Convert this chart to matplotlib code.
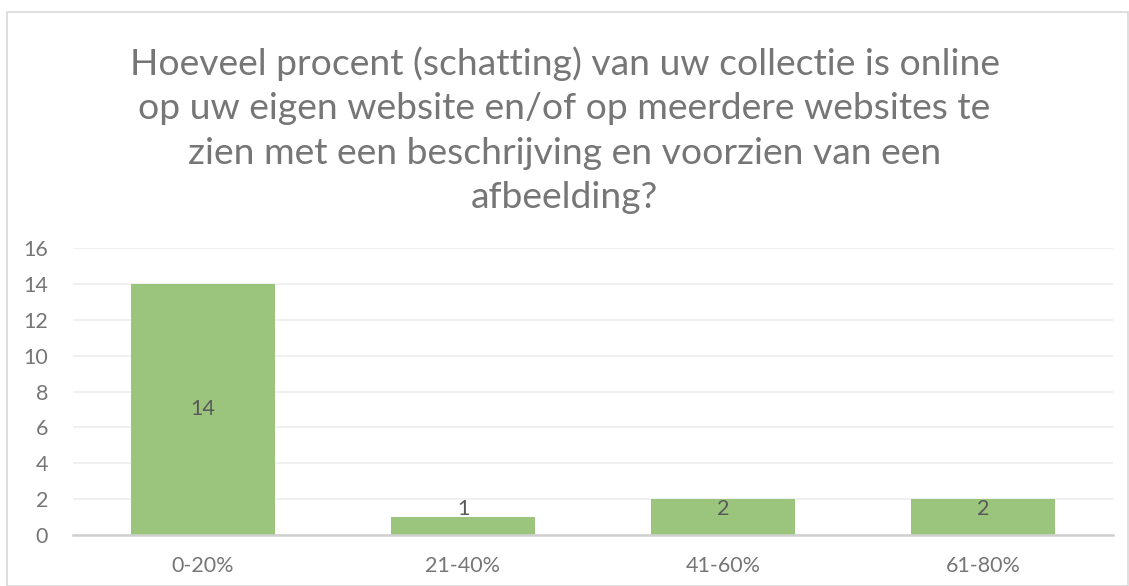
import matplotlib
matplotlib.use("Agg")
import matplotlib.pyplot as plt
from matplotlib.patches import Rectangle

categories = ["0-20%", "21-40%", "41-60%", "61-80%"]
values = [14, 1, 2, 2]
yticks = [0, 2, 4, 6, 8, 10, 12, 14, 16]
title = ("Hoeveel procent (schatting) van uw collectie is online\n"
         "op uw eigen website en/of op meerdere websites te\n"
         "zien met een beschrijving en voorzien van een\n"
         "afbeelding?")

plt.rcParams['font.family'] = ['Lato', 'DejaVu Sans']
grey = "#767676"

fig = plt.figure(figsize=(11.29, 5.86), dpi=100)
fig.patches.append(Rectangle((7/1129, 0), 1 - 8/1129, 1 - 12/586, transform=fig.transFigure,
                             fill=False, edgecolor="#D9D9D9", linewidth=1.2))
ax = fig.add_axes([73/1129, (586-535)/586, (1113-73)/1129, (535-248)/586])

x = list(range(len(categories)))
bars = ax.bar(x, values, width=0.555, color="#9BC47C", zorder=2)
ax.set_xlim(-0.5, len(categories) - 0.5)
ax.set_ylim(0, 16)
ax.set_yticks(yticks)
ax.set_xticks(x)
ax.set_xticklabels(categories)
ax.tick_params(axis='both', length=0, colors=grey, labelsize=15.5)
ax.tick_params(axis='x', pad=15)
ax.tick_params(axis='y', pad=18)
ax.grid(axis='y', color="#EDEDED", linewidth=1.2, zorder=0)
for s in ['top', 'right', 'left']:
    ax.spines[s].set_visible(False)
ax.spines['bottom'].set_color("#D0D0D0")
ax.spines['bottom'].set_linewidth(1.8)
ax.spines['bottom'].set_zorder(3)

for xi, v in zip(x, values):
    ax.text(xi, max(v / 2, 1.45), str(v), ha='center', va='center', color="#595959", fontsize=15.5, zorder=4)

fig.text(0.5, (586 - 214) / 586, title, ha='center', va='bottom', color=grey, fontsize=26.8, linespacing=1.42)

fig.savefig("out.png", dpi=100)
